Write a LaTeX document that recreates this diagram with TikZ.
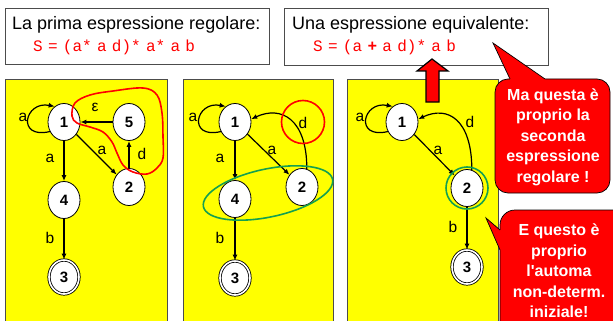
\documentclass[tikz,border=0pt]{standalone}
\usepackage{fontspec}
\setmainfont{Liberation Sans}
\newfontfamily\calfont{Liberation Sans}
\newfontfamily\monof{Liberation Mono}
\newcommand\formfont{\monof\fontsize{16}{16}\selectfont\fontdimen2\font=5.3pt\relax}
\usetikzlibrary{arrows.meta,shapes.geometric}
\definecolor{ylw}{RGB}{255,255,0}
\definecolor{grn}{RGB}{20,160,80}
\definecolor{rd}{RGB}{255,0,0}
\begin{document}
\begin{tikzpicture}[x=1pt,y=1pt,
  panel/.style={fill=ylw, draw=black!70, line width=0.6pt},
  titlebox/.style={rectangle, draw=black!70, fill=white, line width=0.7pt, inner sep=0pt},
  ttext/.style={anchor=west, inner sep=0pt, font=\fontsize{18}{18}\selectfont},
  ftext/.style={anchor=west, inner sep=0pt, text=rd, font=\formfont},
  st/.style={ellipse, draw, fill=white, line width=0.8pt, minimum width=32pt, minimum height=37pt, inner sep=0pt, font=\fontsize{15}{15}\selectfont\bfseries},
  acc/.style={st, double, double distance=1.6pt, minimum width=30pt, minimum height=34pt},
  edge/.style={-{Latex[length=6pt,width=5pt]}, line width=1.2pt},
  lbl/.style={inner sep=0pt, font=\fontsize{15.5}{15.5}\selectfont},
  ctext/.style={text=white, align=center, inner sep=0pt, font=\calfont\bfseries\fontsize{16}{20.5}\selectfont},
  callout/.style={fill=rd, draw=black, line width=0.7pt}
]
\useasboundingbox (0,0) rectangle (613,-321);
\clip (0,0) rectangle (613,-321);

% title boxes
\node[titlebox, minimum width=264pt, minimum height=56pt] (box1) at (137,-36) {};
\node[titlebox, minimum width=264pt, minimum height=57pt] (box2) at (416,-36.5) {};
\node[ttext] (t1) at (12,-25) {La prima espressione regolare:};
\node[ftext] (f1) at (33,-47) {S = (a* a d)* a* a b};
\node[ttext] (t2) at (292,-25) {Una espressione equivalente:};
\node[ftext] (f2) at (313,-47) {S = (a {\bfseries +} a d)* a b};

% yellow panels
\draw[panel] (5,-79) rectangle (167,-335);
\draw[panel] (183,-79) rectangle (333,-335);
\draw[panel] (347,-79) rectangle (498,-335);

% red up arrow
\draw[fill=rd, draw=black, line width=1.2pt, line join=miter]
  (432,-59) -- (448,-71) -- (439,-71) -- (439,-102) -- (426,-102) -- (426,-71) -- (417,-71) -- cycle;

% ---------- panel 1 ----------
\node[st] (A1) at (64,-122) {1};
\node[st] (A5) at (129,-122) {5};
\node[st] (A2) at (129,-187) {2};
\node[st] (A4) at (64,-200) {4};
\node[acc] (A3) at (64,-277) {3};
\draw[edge] (A1.214) .. controls +(-34,-8) and +(-30,6) .. (A1.121);
\draw[edge] (A5) -- (A1);
\draw[edge] (A1) -- (A2);
\draw[edge] (A2) -- (A5);
\draw[edge] (A1) -- (A4);
\draw[edge] (A4) -- (A3);
\node[lbl] (la1) at (23,-117) {a};
\node[lbl] (la2) at (95,-107) {ε};
\node[lbl] (la3) at (102,-150) {a};
\node[lbl] (la4) at (142,-154) {d};
\node[lbl] (la5) at (50,-158) {a};
\node[lbl] (la6) at (50,-238) {b};
\draw[rd, line width=1.6pt] plot[smooth cycle, tension=0.6] coordinates {
  (75,-103) (90,-95) (113,-91) (143,-88) (157,-95) (162,-113) (163,-137)
  (163,-158) (157,-168) (147,-174) (133,-172) (123,-165) (117,-153)
  (112,-142) (103,-132) (90,-127) (77,-123) (72,-116)};

% ---------- panel 2 ----------
\node[st] (B1) at (235,-122) {1};
\node[st] (B2) at (302,-187) {2};
\node[st] (B4) at (235,-199) {4};
\node[acc] (B3) at (235,-278) {3};
\draw[edge] (B1.214) .. controls +(-34,-8) and +(-30,6) .. (B1.121);
\draw[edge] (B1) -- (B4);
\draw[edge] (B1) -- (B2);
\draw[edge] (B4) -- (B3);
\draw[edge] (B2.75) .. controls +(0,50) and +(30,14) .. (B1.10);
\node[lbl] (lb1) at (193,-117) {a};
\node[lbl] (lb2) at (220,-158) {a};
\node[lbl] (lb3) at (272,-150) {a};
\node[lbl] (lb4) at (303,-123) {d};
\node[lbl] (lb5) at (220,-238) {b};
\node[circle, draw=rd, line width=1.6pt, minimum size=43pt, inner sep=0pt] (rc) at (303,-122) {};
\node[ellipse, draw=grn, line width=1.6pt, minimum width=132pt, minimum height=48pt, rotate=12, inner sep=0pt] (ge) at (268,-193) {};

% ---------- panel 3 ----------
\node[st] (C1) at (402,-122) {1};
\node[st] (C2) at (467,-188) {2};
\node[acc] (C3) at (467,-267) {3};
\draw[edge] (C1.214) .. controls +(-34,-8) and +(-30,6) .. (C1.121);
\draw[edge] (C1) -- (C2);
\draw[edge] (C2) -- (C3);
\draw[edge] (C2.75) .. controls +(0,50) and +(30,14) .. (C1.10);
\node[lbl] (lc1) at (360,-117) {a};
\node[lbl] (lc2) at (438,-150) {a};
\node[lbl] (lc3) at (470,-122) {d};
\node[lbl] (lc4) at (453,-227) {b};
\node[circle, draw=grn, line width=1.6pt, minimum size=42pt, inner sep=0pt] (gc) at (467,-188) {};

% ---------- callouts ----------
\draw[callout, rounded corners=13pt] (495,-79) rectangle (610,-193);
\fill[rd] (493,-43) -- (510,-79) -- (510,-83) -- (545,-83) -- (545,-79) -- cycle;
\draw[black, line width=0.7pt] (510,-79) -- (493,-43) -- (545,-79);
\node[ctext] (c1t) at (553,-137) {Ma questa è\\proprio la\\seconda\\espressione\\regolare !};

\draw[callout, rounded corners=15pt] (500,-210) rectangle (640,-345);
\fill[rd] (486,-218) -- (500,-230) -- (504,-230) -- (504,-250) -- (500,-250) -- cycle;
\draw[black, line width=0.7pt] (500,-230) -- (486,-218) -- (500,-250);
\node[ctext] (c2t) at (559,-271) {E questo è\\proprio\\l'automa\\non-determ.\\iniziale!};
\end{tikzpicture}
\end{document}
